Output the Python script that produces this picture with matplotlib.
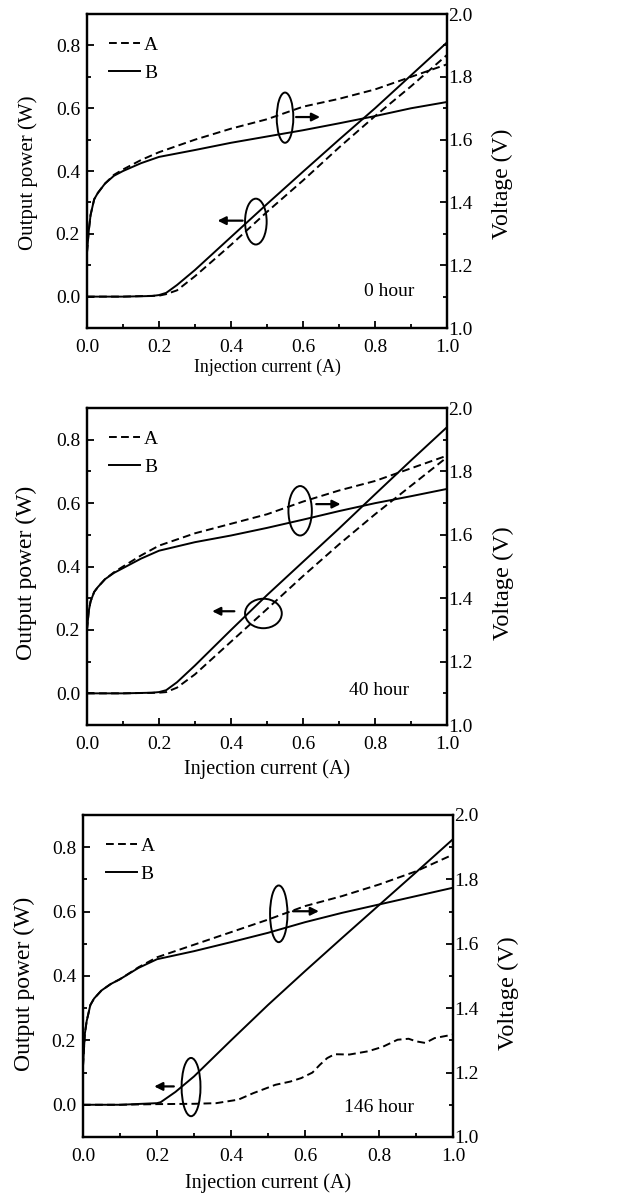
import matplotlib
matplotlib.use("Agg")
import matplotlib.pyplot as plt
from matplotlib.patches import Ellipse

plt.rcParams['font.family'] = ['Liberation Serif', 'DejaVu Serif']

# ---- 0 hour ----
p0_x_B = [0, 0.1, 0.18, 0.2, 0.22, 0.25, 0.3, 0.4, 0.5, 0.6, 0.7, 0.8, 0.9, 1.0]
p0_P_B = [0, 0, 0.002, 0.005, 0.012, 0.037, 0.085, 0.19, 0.295, 0.398, 0.50, 0.60, 0.705, 0.81]
p0_x_A = [0, 0.1, 0.2, 0.22, 0.25, 0.3, 0.4, 0.5, 0.6, 0.7, 0.8, 0.9, 1.0]
p0_P_A = [0, 0, 0.003, 0.008, 0.02, 0.065, 0.165, 0.27, 0.37, 0.475, 0.575, 0.67, 0.77]
v0_x = [0, 0.005, 0.01, 0.02, 0.03, 0.05, 0.075, 0.1, 0.15, 0.2, 0.3, 0.4, 0.5, 0.6, 0.7, 0.8, 0.9, 1.0]
v0_B = [1.24, 1.31, 1.36, 1.41, 1.43, 1.46, 1.485, 1.50, 1.525, 1.545, 1.567, 1.59, 1.61, 1.63, 1.652, 1.675, 1.70, 1.72]
v0_A = [1.24, 1.31, 1.36, 1.41, 1.43, 1.46, 1.488, 1.505, 1.535, 1.56, 1.60, 1.635, 1.665, 1.705, 1.73, 1.76, 1.80, 1.84]

# ---- 40 hour ----
p40_x_B = [0, 0.1, 0.18, 0.2, 0.22, 0.25, 0.3, 0.4, 0.5, 0.6, 0.7, 0.8, 0.9, 1.0]
p40_P_B = [0, 0, 0.002, 0.004, 0.01, 0.035, 0.088, 0.20, 0.31, 0.415, 0.52, 0.628, 0.735, 0.84]
p40_x_A = [0, 0.1, 0.2, 0.22, 0.25, 0.3, 0.4, 0.5, 0.6, 0.7, 0.8, 0.9, 1.0]
p40_P_A = [0, 0, 0.002, 0.004, 0.018, 0.06, 0.163, 0.266, 0.37, 0.47, 0.565, 0.655, 0.745]
v40_x = [0, 0.005, 0.01, 0.02, 0.03, 0.05, 0.075, 0.1, 0.15, 0.2, 0.3, 0.4, 0.5, 0.6, 0.7, 0.8, 0.9, 1.0]
v40_B = [1.30, 1.36, 1.39, 1.42, 1.435, 1.46, 1.48, 1.495, 1.525, 1.55, 1.577, 1.598, 1.622, 1.648, 1.675, 1.70, 1.722, 1.745]
v40_A = [1.30, 1.36, 1.39, 1.42, 1.435, 1.46, 1.482, 1.50, 1.535, 1.566, 1.605, 1.635, 1.665, 1.705, 1.74, 1.77, 1.81, 1.85]

# ---- 146 hour ----
p146_x_B = [0, 0.1, 0.2, 0.21, 0.25, 0.3, 0.4, 0.5, 0.6, 0.7, 0.8, 0.9, 1.0]
p146_P_B = [0, 0, 0.005, 0.008, 0.04, 0.088, 0.20, 0.31, 0.415, 0.518, 0.62, 0.722, 0.825]
p146_x_A = [0, 0.1, 0.2, 0.3, 0.36, 0.42, 0.46, 0.52, 0.56, 0.59, 0.62, 0.64, 0.66, 0.68,
            0.72, 0.77, 0.81, 0.85, 0.88, 0.9, 0.925, 0.95, 1.0]
p146_P_A = [0, 0, 0.002, 0.003, 0.005, 0.016, 0.036, 0.062, 0.072, 0.083, 0.10, 0.124, 0.145, 0.157,
            0.156, 0.166, 0.18, 0.202, 0.205, 0.197, 0.192, 0.207, 0.218]
v146_x = [0, 0.005, 0.01, 0.02, 0.03, 0.05, 0.075, 0.1, 0.15, 0.2, 0.3, 0.4, 0.5, 0.6, 0.7, 0.8, 0.9, 1.0]
v146_B = [1.22, 1.32, 1.36, 1.41, 1.43, 1.455, 1.475, 1.49, 1.525, 1.552, 1.577, 1.605, 1.634, 1.667, 1.696, 1.722, 1.748, 1.774]
v146_A = [1.22, 1.32, 1.36, 1.41, 1.43, 1.455, 1.475, 1.49, 1.527, 1.558, 1.597, 1.636, 1.675, 1.717, 1.748, 1.784, 1.825, 1.877]

hours = ["0 hour", "40 hour", "146 hour"]

panels = [
    dict(rect=[0.1396, 0.7271, 0.578, 0.2612], xfs=12.8, yfsL=15, yfsR=17,
         xlab=-0.098, ylabL=(-0.135, 0.494), ylabR=(1.125, 0.459),
         pxB=p0_x_B, pB=p0_P_B, pxA=p0_x_A, pA=p0_P_A, vx=v0_x, vB=v0_B, vA=v0_A,
         ellV=(0.55, 0.57, 0.046, 0.16), arrV=(0.573, 0.655, 0.572),
         ellP=(0.469, 0.239, 0.06, 0.146), arrP=(0.44, 0.355, 0.242),
         htxt=(0.77, 0.015)),
    dict(rect=[0.1396, 0.3968, 0.578, 0.2637], xfs=14.5, yfsL=17, yfsR=17.5,
         xlab=-0.107, ylabL=(-0.14, 0.48), ylabR=(1.128, 0.448),
         pxB=p40_x_B, pB=p40_P_B, pxA=p40_x_A, pA=p40_P_A, vx=v40_x, vB=v40_B, vA=v40_A,
         ellV=(0.592, 0.576, 0.065, 0.156), arrV=(0.629, 0.712, 0.597),
         ellP=(0.49, 0.252, 0.102, 0.093), arrP=(0.417, 0.34, 0.259),
         htxt=(0.727, 0.008)),
    dict(rect=[0.1332, 0.0541, 0.594, 0.2679], xfs=14.5, yfsL=17, yfsR=17.5,
         xlab=-0.112, ylabL=(-0.13, 0.475), ylabR=(1.122, 0.447),
         pxB=p146_x_B, pB=p146_P_B, pxA=p146_x_A, pA=p146_P_A, vx=v146_x, vB=v146_B, vA=v146_A,
         ellV=(0.529, 0.593, 0.047, 0.176), arrV=(0.56, 0.645, 0.601),
         ellP=(0.292, 0.055, 0.051, 0.181), arrP=(0.253, 0.185, 0.057),
         htxt=(0.705, -0.01)),
]

fig = plt.figure(figsize=(6.23, 12.02), dpi=100)
lw = 1.4
dash = (4, 2.2)
tfs = 14

for p, htext in zip(panels, hours):
    ax = fig.add_axes(p["rect"])
    ax.plot(p["pxA"], p["pA"], color='black', lw=lw, ls='--', dashes=dash, label='A')
    ax.plot(p["pxB"], p["pB"], color='black', lw=lw, label='B')
    ax.set_xlim(0, 1.0)
    ax.set_ylim(-0.1, 0.9)
    ax.set_xticks([0, 0.2, 0.4, 0.6, 0.8, 1.0])
    ax.set_xticks([0.1, 0.3, 0.5, 0.7, 0.9], minor=True)
    ax.set_yticks([0, 0.2, 0.4, 0.6, 0.8])
    ax.set_yticks([-0.1, 0.1, 0.3, 0.5, 0.7], minor=True)
    ax.xaxis.set_major_formatter(plt.FormatStrFormatter('%.1f'))
    ax.yaxis.set_major_formatter(plt.FormatStrFormatter('%.1f'))
    ax.tick_params(which='both', direction='in', top=False, right=False,
                   labelsize=tfs, width=1.3)
    ax.tick_params(axis='x', pad=8)
    ax.tick_params(axis='y', pad=5)
    ax.tick_params(which='major', length=5)
    ax.tick_params(which='minor', length=3)
    ax.set_xlabel("Injection current (A)", fontsize=p["xfs"])
    ax.xaxis.set_label_coords(0.5, p["xlab"])
    ax.set_ylabel("Output power (W)", fontsize=p["yfsL"])
    ax.yaxis.set_label_coords(*p["ylabL"])
    for s in ax.spines.values():
        s.set_linewidth(1.6)

    ax2 = ax.twinx()
    ax2.plot(p["vx"], p["vA"], color='black', lw=lw, ls='--', dashes=dash)
    ax2.plot(p["vx"], p["vB"], color='black', lw=lw)
    ax2.set_ylim(1.0, 2.0)
    ax2.set_yticks([1.0, 1.2, 1.4, 1.6, 1.8, 2.0])
    ax2.set_yticks([1.1, 1.3, 1.5, 1.7, 1.9], minor=True)
    ax2.yaxis.set_major_formatter(plt.FormatStrFormatter('%.1f'))
    ax2.tick_params(which='both', direction='in', labelsize=tfs, width=1.3, pad=1)
    ax2.tick_params(which='major', length=5)
    ax2.tick_params(which='minor', length=3)
    ax2.set_ylabel("Voltage (V)", fontsize=p["yfsR"])
    ax2.yaxis.set_label_coords(*p["ylabR"])
    for s in ax2.spines.values():
        s.set_linewidth(1.6)

    ax.legend(loc='upper left', bbox_to_anchor=(0.04, 0.955), frameon=False,
              fontsize=tfs, handlelength=1.6, handletextpad=0.2, labelspacing=0.55,
              borderaxespad=0)

    ex, ey, ew, eh = p["ellV"]
    ax.add_patch(Ellipse((ex, ey), ew, eh, fill=False, lw=1.4, color='black'))
    x0, x1, yy = p["arrV"]
    ax.annotate("", xy=(x1, yy), xytext=(x0, yy),
                arrowprops=dict(arrowstyle='-|>', color='black', lw=1.6, mutation_scale=12))
    ex, ey, ew, eh = p["ellP"]
    ax.add_patch(Ellipse((ex, ey), ew, eh, fill=False, lw=1.4, color='black'))
    x0, x1, yy = p["arrP"]
    ax.annotate("", xy=(x1, yy), xytext=(x0, yy),
                arrowprops=dict(arrowstyle='-|>', color='black', lw=1.6, mutation_scale=12))

    tx, ty = p["htxt"]
    ax.text(tx, ty, htext, fontsize=tfs, ha='left', va='center')

fig.savefig("out.png", dpi=100)
